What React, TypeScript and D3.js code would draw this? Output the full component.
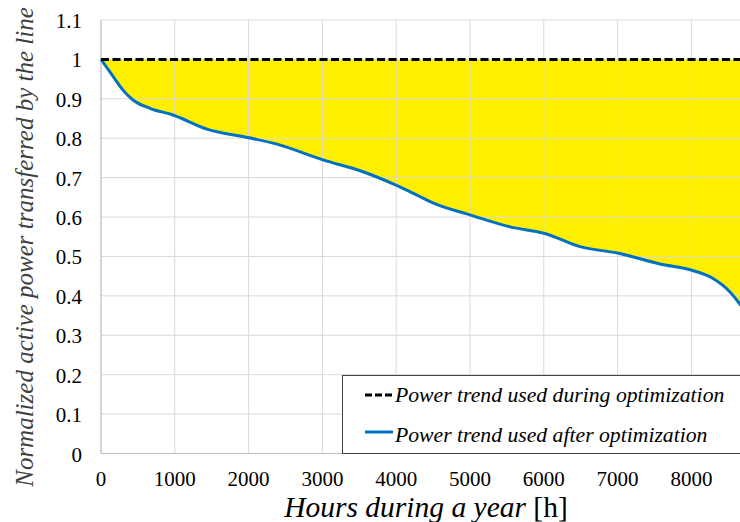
import React from "react";
import * as d3 from "d3";

// Annual power-flow duration curve (hours sorted by normalized power)
const hours = [0, 152, 298, 434, 664, 975, 1436, 2005, 2384, 3008, 3550, 3997, 4322, 4498, 5008, 5542, 6002, 6491, 7015, 7574, 8008, 8293, 8523, 8694];
const afterOptimization = [1.0, 0.96, 0.922, 0.897, 0.876, 0.859, 0.823, 0.801, 0.785, 0.745, 0.715, 0.681, 0.652, 0.636, 0.605, 0.575, 0.559, 0.525, 0.508, 0.481, 0.465, 0.444, 0.41, 0.37];
const duringOptimization = hours.map(() => 1.0);

const xTicks = [0, 1000, 2000, 3000, 4000, 5000, 6000, 7000, 8000];
const yTicks = [0, 0.1, 0.2, 0.3, 0.4, 0.5, 0.6, 0.7, 0.8, 0.9, 1, 1.1];

const legendLabels = ["Power trend used during optimization", "Power trend used after optimization"];

const W = 740;
const H = 522;
const FONT = "Liberation Serif";

type Pt = { h: number; lo: number; hi: number };

export default function App() {
  const x = d3.scaleLinear().domain([0, 8760]).range([101, 101 + 8.76 * 73.8]);
  const y = d3.scaleLinear().domain([0, 1.1]).range([453.5, 20]);

  const pts: Pt[] = hours.map((h, i) => ({ h, lo: afterOptimization[i], hi: duringOptimization[i] }));
  const curve = d3.curveMonotoneX;

  const area = d3
    .area<Pt>()
    .x((d) => x(d.h))
    .y0((d) => y(d.lo))
    .y1((d) => y(d.hi))
    .curve(curve)(pts) as string;

  const lowLine = d3
    .line<Pt>()
    .x((d) => x(d.h))
    .y((d) => y(d.lo))
    .curve(curve)(pts) as string;

  const highLine = d3
    .line<Pt>()
    .x((d) => x(d.h))
    .y((d) => y(d.hi))(pts) as string;

  const plotRight = W;

  return (
    <svg width={W} height={H} style={{ position: "absolute", left: 0, top: 0, background: "#fff" }}>
      <defs>
        <clipPath id="plotClip">
          <rect x={0} y={0} width={plotRight} height={H} />
        </clipPath>
      </defs>
      <g clipPath="url(#plotClip)">
        <path d={area} fill="#FFF000" stroke="none" />
        {/* grid */}
        {yTicks.map((t) => (
          <line key={"gy" + t} x1={x(0)} x2={plotRight} y1={y(t)} y2={y(t)} stroke="#d9d9d9" strokeWidth={1} />
        ))}
        {xTicks.map((t) => (
          <line key={"gx" + t} x1={x(t)} x2={x(t)} y1={y(1.1)} y2={y(0)} stroke="#d9d9d9" strokeWidth={1} />
        ))}
        <line x1={x(0)} x2={x(0)} y1={y(1.1)} y2={y(0)} stroke="#bfbfbf" strokeWidth={1} />
        <line x1={x(0)} x2={plotRight} y1={y(0)} y2={y(0)} stroke="#bfbfbf" strokeWidth={1} />
        <path d={lowLine} fill="none" stroke="#0070C0" strokeWidth={3} />
        <path d={highLine} fill="none" stroke="#000" strokeWidth={3} strokeDasharray="8 3.5" />
      </g>

      {/* y tick labels */}
      {yTicks.map((t) => (
        <text key={"ty" + t} x={82} y={y(t) + 8} textAnchor="end" style={{ fontFamily: FONT }} fontSize={21} fill="#000">
          {d3.format("~g")(t)}
        </text>
      ))}
      {/* x tick labels */}
      {xTicks.map((t) => (
        <text key={"tx" + t} x={x(t)} y={486} textAnchor="middle" style={{ fontFamily: FONT }} fontSize={21} fill="#000">
          {t}
        </text>
      ))}

      {/* axis titles */}
      <text x={426} y={517} textAnchor="middle" style={{ fontFamily: FONT }} fontSize={29.5} fill="#000">
        <tspan fontStyle="italic">Hours during a year </tspan>
        <tspan>[h]</tspan>
      </text>
      <text
        transform="translate(33,247) rotate(-90)"
        textAnchor="middle"
        style={{ fontFamily: FONT }}
        fontStyle="italic"
        fontSize={25}
        fill="#404040"
      >
        Normalized active power transferred by the line
      </text>

      {/* legend */}
      <rect x={342.5} y={375.5} width={420} height={78} fill="#fff" stroke="#404040" strokeWidth={1} />
      <line x1={365} x2={395} y1={395} y2={395} stroke="#000" strokeWidth={3} strokeDasharray="7 3" />
      <text x={395} y={401.5} style={{ fontFamily: FONT }} fontStyle="italic" fontSize={21.7} fill="#000">
        {legendLabels[0]}
      </text>
      <line x1={365} x2={393} y1={432} y2={432} stroke="#0070C0" strokeWidth={3} />
      <text x={395} y={441.5} style={{ fontFamily: FONT }} fontStyle="italic" fontSize={21.7} fill="#000">
        {legendLabels[1]}
      </text>
    </svg>
  );
}
